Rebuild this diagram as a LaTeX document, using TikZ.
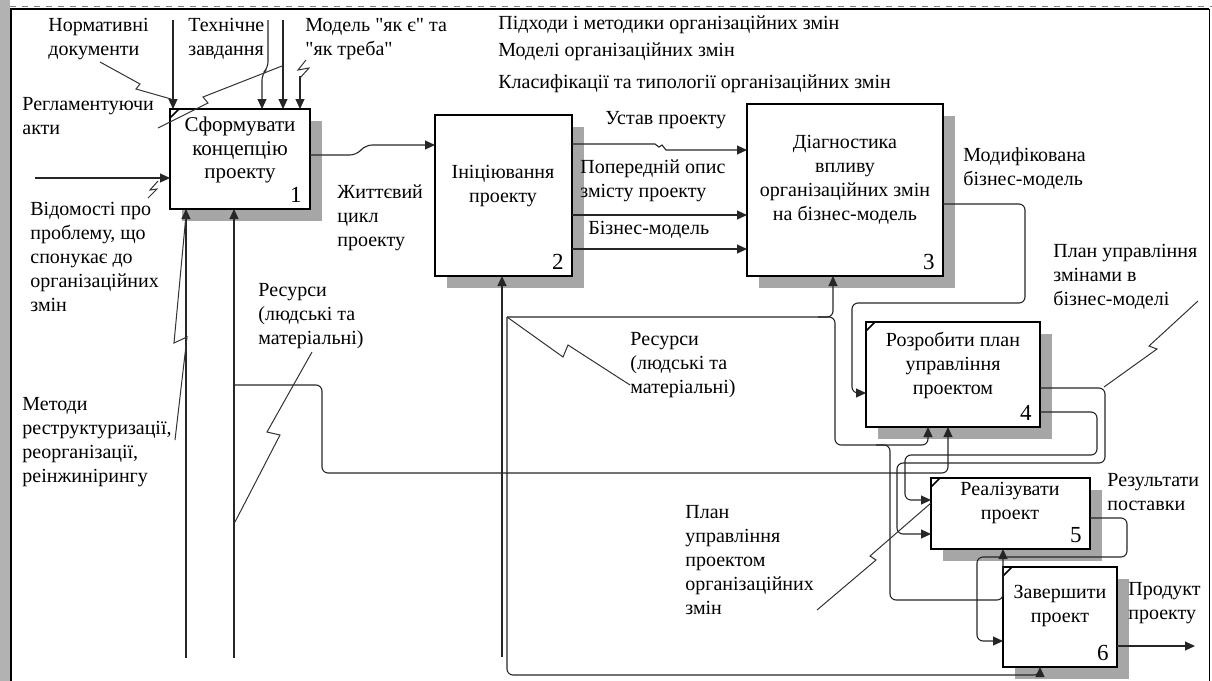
\documentclass[tikz,border=0pt]{standalone}
\usepackage{fontspec}
\setmainfont{Liberation Serif}
\usetikzlibrary{arrows.meta,positioning,shadows}

\tikzset{
  blk/.style={draw, line width=1pt, fill=white, inner sep=0pt, outer sep=0pt, anchor=north west,
    drop shadow={shadow xshift=6pt, shadow yshift=-6pt, opacity=1, fill=black!35}},
  wire/.style={draw=black!85, line width=0.55pt, rounded corners=3pt},
  tip/.style={-{Triangle[length=5pt,width=4.5pt]}},
  zig/.style={draw=black!80, line width=0.5pt},
  lbl/.style={inner sep=0pt, align=left, anchor=north west},
  ttl/.style={inner sep=0pt, align=center, anchor=north},
  num/.style={inner sep=0pt, anchor=south east, xshift=-4pt, yshift=3pt, font=\fontsize{11.5}{12}\selectfont},
  tick/.style={line width=0.8pt}
}

\begin{document}
\begin{tikzpicture}[x=0.5pt, y=-0.5pt, font=\fontsize{10}{12}\selectfont]
\useasboundingbox (0,0) rectangle (1212,681);
% frame
\fill[black!30] (0,0) rectangle (10,681);
\draw[black!50, dashed, line width=0.5pt] (10,6) -- (1212,6);
\draw[line width=1.2pt] (11,681) -- (11,9) -- (1209,9);
\draw[line width=0.4pt] (1209,9) -- (1209,681);

% boxes
\node[blk, minimum width=70pt, minimum height=50pt] (b1) at (170,109) {};
\node[blk, minimum width=68.5pt, minimum height=80.5pt] (b2) at (435,115) {};
\node[blk, minimum width=98pt, minimum height=86pt] (b3) at (747,104) {};
\node[blk, minimum width=87pt, minimum height=52.5pt] (b4) at (866,322) {};
\node[blk, minimum width=79.5pt, minimum height=35.5pt] (b5) at (931,478) {};
\node[blk, minimum width=57pt, minimum height=50pt] (b6) at (1003,567) {};
\foreach \b in {b1,b4,b5,b6} \draw[tick] (\b.north west) ++(0,9) -- ++(9,-9);

\node[ttl, font=\fontsize{10.5}{11.6}\selectfont] (t1) at (240,117) {Сформувати\\концепцію\\проекту};
\node[ttl] (t2) at (503,165) {Ініціювання\\проекту};
\node[ttl] (t3) at (845,135) {Діагностика\\впливу\\організаційних змін\\на бізнес-модель};
\node[ttl] (t4) at (953,332) {Розробити план\\управління\\проектом};
\node[ttl] (t5) at (1010,482) {Реалізувати\\проект};
\node[ttl] (t6) at (1060,585) {Завершити\\проект};
\node[num] (n1) at (b1.south east) {1};
\node[num] (n2) at (b2.south east) {2};
\node[num] (n3) at (b3.south east) {3};
\node[num] (n4) at (b4.south east) {4};
\node[num] (n5) at (b5.south east) {5};
\node[num] (n6) at (b6.south east) {6};

% box 1
\coordinate (iVid) at (35,178);
\draw[wire,tip] (iVid) -- (iVid -| b1.west);
\coordinate (cNorm) at (173,20);
\draw[wire,tip] (cNorm) -- (cNorm |- b1.north);
\coordinate (cTech) at (268,20);
\draw[wire,tip] (cTech) -- (268,68) -- (262,74) -- (262,0 |- b1.north);
\coordinate (cReg) at (283,20);
\draw[wire,tip] (cReg) -- (cReg |- b1.north);
\coordinate (cMod) at (300,76);
\draw[wire,tip] (cMod) -- (cMod |- b1.north);
\coordinate (mMet) at (186,658);
\draw[wire,tip] (mMet) -- (mMet |- b1.south);
\coordinate (mRes) at (234,658);
\draw[wire,tip] (mRes) -- (mRes |- b1.south);
\coordinate (jRes) at (234,385);
\draw[wire,tip] (jRes) -- (322,385) -- (322,473) -- (948,473) -- (948,0 |- b4.south);
\draw[wire,tip] (b1.east |- 0,155) -- (356,155) -- (366,145) -- (b2.west |- 0,145);

% box 2
\coordinate (mRes2) at (502,657);
\draw[wire,tip] (mRes2) -- (mRes2 |- b2.south);
\draw[wire,tip,sharp corners] (b2.east |- 0,144) -- (655,144) -- (659,147) -- (662,145) -- (666,150) -- (b3.west |- 0,150);
\draw[wire,tip] (b2.east |- 0,215) -- (b3.west |- 0,215);
\draw[wire,tip] (b2.east |- 0,249) -- (b3.west |- 0,249);

% resources
\coordinate (jRes2) at (507,317);
\coordinate (jRes3) at (818,317);
\coordinate (jRes4) at (876,445);
\draw[wire,tip] (jRes2) -- (833,317) -- (833,0 |- b3.south);
\draw[wire,tip] (jRes3) -- (835,317) -- (835,445) -- (928,445) -- (928,0 |- b4.south);
\draw[wire,tip] (jRes4) -- (890,445) -- (890,600) -- (1003,600) -- (1003,0 |- b5.south);
\draw[wire,tip] (jRes2) -- (507,675) -- (1040,675) -- (1040,0 |- b6.south);

% box 3, 4, 5, 6
\draw[wire,tip] (b3.east |- 0,204) -- (1025,204) -- (1025,303) -- (852,303) -- (852,393) -- (b4.west |- 0,393);
\draw[wire,tip] (b4.east |- 0,388) -- (1105,388) -- (1105,463) -- (897,463) -- (897,534) -- (b5.west |- 0,534);
\draw[wire,tip] (b4.east |- 0,412) -- (1097,412) -- (1097,455) -- (905,455) -- (905,500) -- (b5.west |- 0,500);
\draw[wire,tip] (b5.east |- 0,518) -- (1127,518) -- (1127,557) -- (977,557) -- (977,641) -- (b6.west |- 0,641);
\coordinate (oProd) at (1195,646);
\draw[wire,tip] (b6.east |- oProd) -- (oProd);

% labels
\node[lbl] (tNorm) at (48,18) {Нормативні\\документи};
\node[lbl] (tTech) at (188,18) {Технічне\\завдання};
\node[lbl] (tMod) at (305,18) {Модель \textquotedbl{}як є\textquotedbl{} та\\\textquotedbl{}як треба\textquotedbl};
\node[lbl] (tReg) at (22,97) {Регламентуючи\\акти};
\node[lbl] (tVid) at (30,202) {Відомості про\\проблему, що\\спонукає до\\організаційних\\змін};
\node[lbl] (tMet) at (22,397) {Методи\\реструктуризації,\\реорганізації,\\реінжинірингу};
\node[lbl] (tRes) at (258,283) {Ресурси\\(людські та\\матеріальні)};
\node[lbl] (tLife) at (337,184) {Життєвий\\цикл\\проекту};
\node[lbl] (tApp) at (498,15) {Підходи і методики організаційних змін};
\node[lbl] (tMdl) at (498,42) {Моделі організаційних змін};
\node[lbl] (tCls) at (498,74) {Класифікації та типології організаційних змін};
\node[lbl] (tUst) at (605,111) {Устав проекту};
\node[lbl] (tPop) at (580,159) {Попередній опис\\змісту проекту};
\node[lbl] (tBiz) at (588,221) {Бізнес-модель};
\node[lbl] (tModBiz) at (963,147) {Модифікована\\бізнес-модель};
\node[lbl] (tPlanBM) at (1053,244) {План управління\\змінами в\\бізнес-моделі};
\node[lbl] (tRes2) at (630,332) {Ресурси\\(людські та\\матеріальні)};
\node[lbl] (tPlanPO) at (685,505) {План\\управління\\проектом\\організаційних\\змін};
\node[lbl] (tRez) at (1107,473) {Результати\\поставки};
\node[lbl] (tProd) at (1128,582) {Продукт\\проекту};

% squiggles
\draw[zig] (100,62) -- (140,84) -- (136,89) -- (171,99);
\draw[zig] (158,128) -- (208,103) -- (203,97) -- (282,66);
\draw[zig] (306,60) -- (298,70) -- (309,68) -- (300,78);
\draw[zig] (148,198) -- (157,189) -- (150,190) -- (158,181);
\draw[zig] (175,440) -- (187,337) -- (174,343) -- (186,215);
\draw[zig] (312,352) -- (267,432) -- (280,435) -- (235,522);
\draw[zig] (jRes2) -- (563,357) -- (568,345) -- (630,385);
\draw[zig] (1104,387) -- (1157,349) -- (1149,346) -- (1198,301);
\draw[zig] (817,610) -- (876,560) -- (870,556) -- (931,503);
\end{tikzpicture}
\end{document}
